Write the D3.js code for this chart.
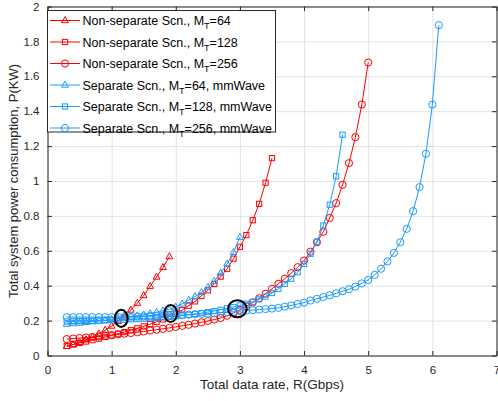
<!DOCTYPE html>
<html>
<head>
<meta charset="utf-8">
<script src="https://cdn.jsdelivr.net/npm/d3@7"></script>
<style>
  html, body { margin: 0; padding: 0; background: #fff; }
  svg { display: block; font-family: "Liberation Sans", Arial, Helvetica, sans-serif; }
</style>
</head>
<body>
<svg id="chart" width="498" height="401"></svg>
<script>
// ---------------- data ----------------
const rates = [0.3,0.4,0.5,0.6,0.7,0.8,0.9,1.0,1.1,1.2,1.3,1.4,1.5,1.6,1.7,1.8,1.9,2.0,
  2.1,2.2,2.3,2.4,2.5,2.6,2.7,2.8,2.9,3.0,3.1,3.2,3.3,3.4,3.5,3.6,3.7,3.8,3.9,4.0,
  4.1,4.2,4.3,4.4,4.5,4.6,4.7,4.8,4.9,5.0,5.1,5.2,5.3,5.4,5.5,5.6,5.7,5.8,5.9,6.0,6.1];

const nonSep64 = [.052,.063,.076,.090,.106,.125,.146,.169,.196,.227,.261,.300,.344,.397,.450,.505,.567];
const nonSep128 = [.055,.063,.072,.080,.088,.097,.106,.115,.125,.134,.145,.156,.167,.180,.193,.207,.223,.241,
  .260,.285,.310,.342,.373,.410,.452,.497,.555,.623,.690,.775,.869,.990,1.131];
const nonSep256 = [.094,.097,.100,.103,.106,.109,.113,.117,.121,.125,.129,.133,.138,.143,.148,.153,.158,.164,
  .170,.176,.183,.190,.198,.206,.215,.228,.244,.262,.282,.304,.328,.354,.382,.411,.440,.472,.506,.544,
  .595,.649,.709,.788,.873,.978,1.102,1.251,1.438,1.679];
const sep64 = [.180,.183,.186,.190,.194,.198,.202,.207,.212,.217,.222,.228,.234,.241,.248,.256,.265,.278,
  .296,.317,.338,.362,.390,.425,.472,.525,.592,.678];
const sep128 = [.195,.196,.197,.198,.199,.200,.201,.202,.203,.205,.207,.209,.211,.213,.216,.219,.222,.225,
  .229,.233,.238,.243,.249,.255,.262,.270,.278,.287,.297,.308,.322,.338,.358,.382,.410,.440,.477,.525,
  .583,.652,.745,.864,1.027,1.265];
const sep256 = [.220,.220,.220,.220,.220,.220,.220,.220,.220,.221,.222,.223,.224,.225,.226,.227,.229,.230,
  .232,.234,.236,.238,.240,.242,.245,.248,.251,.254,.257,.260,.263,.266,.269,.273,.280,.287,.295,.303,
  .315,.325,.335,.345,.356,.368,.380,.395,.413,.433,.462,.497,.539,.588,.649,.726,.827,.965,1.156,1.438,1.893];

const seriesNames = ["Non-separate Scn., M|T|=64", "Non-separate Scn., M|T|=128", "Non-separate Scn., M|T|=256",
  "Separate Scn., M|T|=64, mmWave", "Separate Scn., M|T|=128, mmWave", "Separate Scn., M|T|=256, mmWave"];
const seriesValues = [nonSep64, nonSep128, nonSep256, sep64, sep128, sep256];
const seriesColors = ["#ff0000", "#ff0000", "#ff0000", "#1a9aff", "#1a9aff", "#1a9aff"];
const seriesMarkers = ["triangle", "square", "circle", "triangle", "square", "circle"];

// highlighted crossing points (ellipses): center x, center y, radius x (Gbps), radius y (KW)
const ellipseCx = [1.15, 1.92, 2.96];
const ellipseCy = [0.213, 0.241, 0.268];
const ellipseRx = [0.10, 0.10, 0.145];
const ellipseRy = [0.049, 0.049, 0.049];

const xTicks = [0,1,2,3,4,5,6,7];
const yTicks = [0,0.2,0.4,0.6,0.8,1,1.2,1.4,1.6,1.8,2];
const xTitle = "Total data rate, R(Gbps)";
const yTitle = "Total system power consumption, P(KW)";

// ---------------- drawing ----------------
const svg = d3.select("#chart");
const L = 47.5, R = 496.5, T = 6.5, B = 355.5;
const x = d3.scaleLinear().domain([0, 7]).range([L, R]);
const y = d3.scaleLinear().domain([0, 2]).range([B, T]);
const axisColor = "#262626";

// grid
svg.append("g").attr("transform", `translate(0,${B})`)
  .call(d3.axisBottom(x).tickValues(xTicks).tickSize(-(B - T)).tickFormat(""))
  .call(g => g.select(".domain").remove())
  .call(g => g.selectAll("line").attr("stroke", "#e3e3e3"));
svg.append("g").attr("transform", `translate(${L},0)`)
  .call(d3.axisLeft(y).tickValues(yTicks).tickSize(-(R - L)).tickFormat(""))
  .call(g => g.select(".domain").remove())
  .call(g => g.selectAll("line").attr("stroke", "#e3e3e3"));

// series
function marker(g, type, color) {
  if (type === "circle") {
    g.append("circle").attr("r", 3.6).attr("fill", "none").attr("stroke", color).attr("stroke-width", 1);
  } else if (type === "square") {
    g.append("rect").attr("x", -2.6).attr("y", -2.6).attr("width", 5.2).attr("height", 5.2)
      .attr("fill", "none").attr("stroke", color).attr("stroke-width", 1);
  } else {
    g.append("path").attr("d", "M0,-3.9L3.4,2.2L-3.4,2.2Z")
      .attr("fill", "none").attr("stroke", color).attr("stroke-width", 1);
  }
}

const line = d3.line().x(d => x(d[0])).y(d => y(d[1]));
seriesValues.forEach((vals, i) => {
  const pts = vals.map((v, k) => [rates[k], v]);
  const g = svg.append("g");
  g.append("path").attr("d", line(pts)).attr("fill", "none")
    .attr("stroke", seriesColors[i]).attr("stroke-width", 1);
  g.selectAll("g.m").data(pts).enter().append("g")
    .attr("transform", d => `translate(${x(d[0])},${y(d[1])})`)
    .each(function () { marker(d3.select(this), seriesMarkers[i], seriesColors[i]); });
});

// ellipses
ellipseCx.forEach((cx, i) => {
  svg.append("ellipse")
    .attr("cx", x(cx)).attr("cy", y(ellipseCy[i]))
    .attr("rx", x(ellipseRx[i]) - x(0)).attr("ry", y(0) - y(ellipseRy[i]))
    .attr("fill", "none").attr("stroke", "#000").attr("stroke-width", 2);
});

// axes (box, inward ticks)
function styleAxis(g) {
  g.select(".domain").attr("stroke", axisColor);
  g.selectAll(".tick line").attr("stroke", axisColor);
  g.selectAll(".tick text").attr("fill", "#262626").attr("font-size", 11.5)
    .attr("font-family", "'Liberation Sans', Arial, sans-serif");
}
svg.append("g").attr("transform", `translate(0,${B})`)
  .call(d3.axisBottom(x).tickValues(xTicks).tickSize(-4.5).tickSizeOuter(0).tickPadding(10).tickFormat(d3.format("d")))
  .call(styleAxis);
svg.append("g").attr("transform", `translate(0,${T})`)
  .call(d3.axisTop(x).tickValues(xTicks).tickSize(-4.5).tickSizeOuter(0).tickFormat(""))
  .call(styleAxis);
svg.append("g").attr("transform", `translate(${L},0)`)
  .call(d3.axisLeft(y).tickValues(yTicks).tickSize(-4.5).tickSizeOuter(0).tickPadding(8).tickFormat(d => String(+d.toFixed(1))))
  .call(styleAxis);
svg.append("g").attr("transform", `translate(${R},0)`)
  .call(d3.axisRight(y).tickValues(yTicks).tickSize(-4.5).tickSizeOuter(0).tickFormat(""))
  .call(styleAxis);

// titles
svg.append("text").attr("x", (L + R) / 2).attr("y", 389).attr("text-anchor", "middle")
  .attr("font-size", 13.5).attr("fill", "#262626").text(xTitle);
svg.append("text").attr("transform", `translate(18,${(T + B) / 2}) rotate(-90)`).attr("text-anchor", "middle")
  .attr("font-size", 13).attr("fill", "#262626").text(yTitle);

// legend
const lg = svg.append("g");
lg.append("rect").attr("x", 47.5).attr("y", 10.5).attr("width", 228).attr("height", 121.5)
  .attr("fill", "#fff").attr("stroke", axisColor).attr("stroke-width", 1);
seriesNames.forEach((name, i) => {
  const ry = 20.5 + i * 21.5;
  lg.append("line").attr("x1", 50).attr("x2", 80).attr("y1", ry).attr("y2", ry)
    .attr("stroke", seriesColors[i]).attr("stroke-width", 1);
  const mg = lg.append("g").attr("transform", `translate(65,${ry})`);
  marker(mg, seriesMarkers[i], seriesColors[i]);
  const parts = name.split("|");
  const t = lg.append("text").attr("x", 82.5).attr("y", ry + 4.5).attr("font-size", 12.5).attr("fill", "#000");
  t.append("tspan").text(parts[0]);
  t.append("tspan").attr("dy", 4).attr("font-size", 9).text(parts[1]);
  t.append("tspan").attr("dy", -4).text(parts[2]);
});
</script>
</body>
</html>
